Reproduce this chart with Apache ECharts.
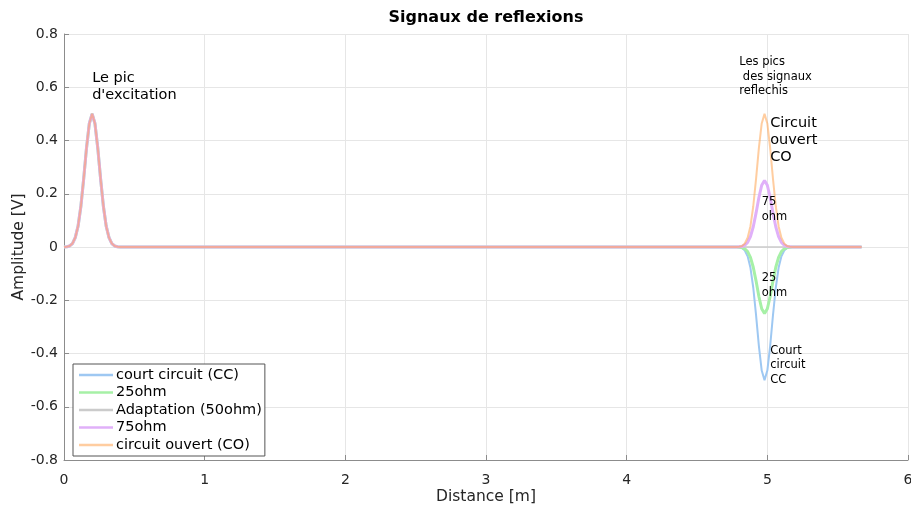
<!DOCTYPE html>
<html>
<head>
<meta charset="utf-8">
<script src="https://cdn.jsdelivr.net/npm/echarts@6/dist/echarts.min.js"></script>
<style>html,body{margin:0;padding:0;background:#fff;overflow:hidden}#c{width:911px;height:509px}</style>
</head>
<body>
<div id="c"></div>
<script>
// ---- data ----
const distance = [
  0, 0.02, 0.04, 0.06, 0.08, 0.1, 0.12, 0.14, 0.16, 0.18, 0.2, 0.22, 0.24, 0.26, 0.28, 0.3, 0.32, 0.34, 0.36, 0.38, 0.4,
  4.78, 4.8, 4.82, 4.84, 4.86, 4.88, 4.9, 4.92, 4.94, 4.96, 4.98, 5.0, 5.02, 5.04, 5.06, 5.08, 5.1, 5.12, 5.14, 5.16, 5.18,
  5.67];

const excitation = [0, 0.001, 0.004, 0.013, 0.035, 0.078, 0.153, 0.257, 0.372, 0.464, 0.5, 0.464, 0.372, 0.257, 0.153, 0.078, 0.035, 0.013, 0.004, 0.001, 0];

const ccValues = excitation.concat([0, -0.001, -0.004, -0.013, -0.035, -0.078, -0.153, -0.257, -0.372, -0.464, -0.5, -0.464, -0.372, -0.257, -0.153, -0.078, -0.035, -0.013, -0.004, -0.001, 0, 0]);
const z25Values = excitation.concat([0, -0.001, -0.002, -0.007, -0.017, -0.039, -0.076, -0.128, -0.186, -0.232, -0.25, -0.232, -0.186, -0.128, -0.076, -0.039, -0.017, -0.007, -0.002, -0.001, 0, 0]);
const z50Values = excitation.concat([0, 0, 0, 0, 0, 0, 0, 0, 0, 0, 0, 0, 0, 0, 0, 0, 0, 0, 0, 0, 0, 0]);
const z75Values = excitation.concat([0, 0.001, 0.002, 0.007, 0.017, 0.039, 0.076, 0.128, 0.186, 0.232, 0.25, 0.232, 0.186, 0.128, 0.076, 0.039, 0.017, 0.007, 0.002, 0.001, 0, 0]);
const coValues = excitation.concat([0, 0.001, 0.004, 0.013, 0.035, 0.078, 0.153, 0.257, 0.372, 0.464, 0.5, 0.464, 0.372, 0.257, 0.153, 0.078, 0.035, 0.013, 0.004, 0.001, 0, 0]);

const seriesNames = ['court circuit (CC)', '25ohm', 'Adaptation (50ohm)', '75ohm', 'circuit ouvert (CO)'];
const seriesValues = [ccValues, z25Values, z50Values, z75Values, coValues];
const seriesColors = ['#9ec8f2', '#a6f0a6', '#cbcbcb', '#e0b0f9', '#ffa452'];
const seriesOpacity = [1, 1, 1, 1, 0.55];
const seriesWidths = [2, 3, 1.5, 3, 2];

const xTicks = [0, 1, 2, 3, 4, 5, 6];
const yTicks = [-0.8, -0.6, -0.4, -0.2, 0, 0.2, 0.4, 0.6, 0.8];

// annotations: [text, x, y (data coords of top-left), fontSize, lineHeight]
const annotations = [
  ["Le pic\nd'excitation", 0.2, 0.665, 14.5, 17],
  ["Les pics\n des signaux\nreflechis", 4.8, 0.722, 11.5, 14.5],
  ["Circuit\nouvert\nCO", 5.02, 0.497, 14.5, 17],
  ["75\nohm", 4.96, 0.196, 11.5, 15],
  ["25\nohm", 4.96, -0.09, 11.5, 14.5],
  ["Court\ncircuit\nCC", 5.02, -0.362, 11.5, 14.5]
];

const FONT = 'DejaVu Sans';
const chart = echarts.init(document.getElementById('c'), null, {renderer: 'canvas'});

const series = seriesNames.map((n, i) => ({
  name: n,
  type: 'line',
  showSymbol: false,
  symbol: 'none',
  data: distance.map((d, k) => [d, seriesValues[i][k]]),
  lineStyle: {color: seriesColors[i], width: seriesWidths[i], opacity: seriesOpacity[i]},
  itemStyle: {color: seriesColors[i], opacity: seriesOpacity[i]},
  emphasis: {disabled: true}
}));

chart.setOption({
  animation: false,
  backgroundColor: '#fff',
  grid: {left: 64, right: 3, top: 34, bottom: 49, containLabel: false, outerBoundsMode: 'none'},
  legend: {
    orient: 'vertical', left: 73, top: 364,
    data: seriesNames,
    icon: 'rect', itemWidth: 34, itemHeight: 2.5, itemGap: 1.5,
    padding: [3, 3, 3, 6],
    backgroundColor: '#fff', borderColor: '#555', borderWidth: 1, borderRadius: 0,
    textStyle: {fontFamily: FONT, fontSize: 14.5, color: '#000', lineHeight: 16, padding: [0, 0, 0, -2]},
    selectedMode: false
  },
  xAxis: {
    type: 'value', min: 0, max: 6, interval: 1,
    name: 'Distance [m]', nameLocation: 'middle', nameGap: 29, nameMoveOverlap: false,
    nameTextStyle: {fontFamily: FONT, fontSize: 15.5, color: '#262626'},
    axisLine: {show: true, onZero: false, lineStyle: {color: '#8c8c8c', width: 1}},
    axisTick: {show: true, inside: true, length: 5, lineStyle: {color: '#8c8c8c'}},
    axisLabel: {fontFamily: FONT, fontSize: 14, color: '#262626', margin: 13},
    splitLine: {show: true, lineStyle: {color: '#e6e6e6', width: 1}}
  },
  yAxis: {
    type: 'value', min: -0.8, max: 0.8, interval: 0.2,
    name: 'Amplitude [V]', nameLocation: 'middle', nameGap: 37, nameMoveOverlap: false,
    nameTextStyle: {fontFamily: FONT, fontSize: 15.5, color: '#262626'},
    axisLine: {show: true, lineStyle: {color: '#8c8c8c', width: 1}},
    axisTick: {show: true, inside: true, length: 5, lineStyle: {color: '#8c8c8c'}},
    axisLabel: {fontFamily: FONT, fontSize: 14, color: '#262626', margin: 6,
      formatter: v => (Math.abs(v) < 1e-9 ? '0' : String(Math.round(v * 10) / 10))},
    splitLine: {show: true, lineStyle: {color: '#e6e6e6', width: 1}}
  },
  series: series
});

const graphics = annotations.map(a => {
  const p = chart.convertToPixel({gridIndex: 0}, [a[1], a[2]]);
  return {
    type: 'text', x: p[0], y: p[1], z: 100, silent: true,
    style: {text: a[0], fontFamily: FONT, fontSize: a[3], lineHeight: a[4], fill: '#000',
      textAlign: 'left', textVerticalAlign: 'top'}
  };
});
const tp = chart.convertToPixel({gridIndex: 0}, [3, 0.8]);
graphics.push({
  type: 'text', x: tp[0], y: 10, z: 100, silent: true,
  style: {text: 'Signaux de reflexions', fontFamily: FONT, fontSize: 16, fontWeight: 'bold', fill: '#000',
    textAlign: 'center', textVerticalAlign: 'top'}
});
chart.setOption({graphic: graphics});
</script>
</body>
</html>
